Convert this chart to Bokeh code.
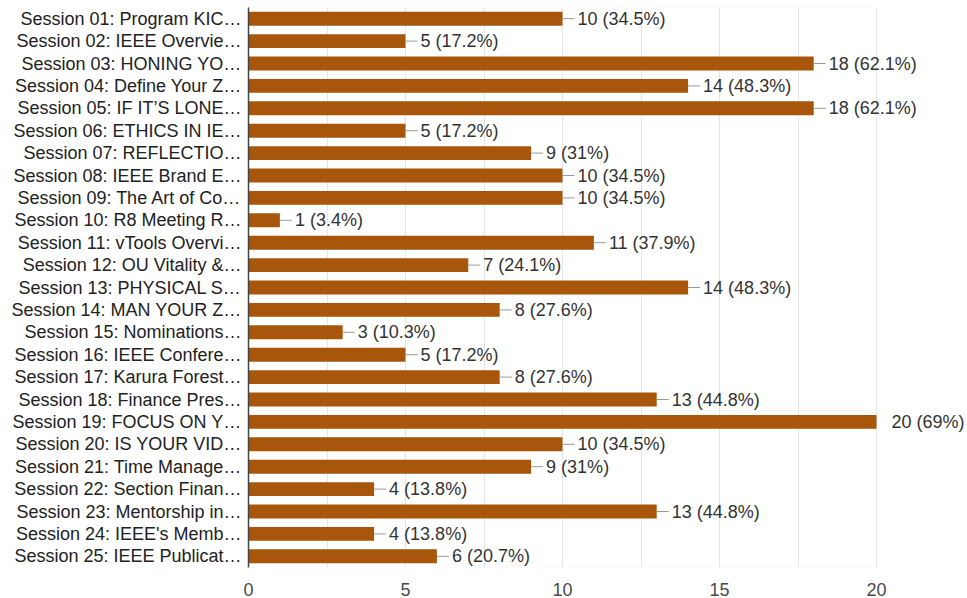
from bokeh.plotting import figure
from bokeh.models import ColumnDataSource, FactorRange, Range1d, FixedTicker, LabelSet, BoxAnnotation
from bokeh.core.properties import value
from bokeh.embed import file_html
from bokeh.resources import INLINE

sessions = [
    "Session 01: Program KIC…",
    "Session 02: IEEE Overvie…",
    "Session 03: HONING YO…",
    "Session 04: Define Your Z…",
    "Session 05: IF IT’S LONE…",
    "Session 06: ETHICS IN IE…",
    "Session 07: REFLECTIO…",
    "Session 08: IEEE Brand E…",
    "Session 09: The Art of Co…",
    "Session 10: R8 Meeting R…",
    "Session 11: vTools Overvi…",
    "Session 12: OU Vitality &…",
    "Session 13: PHYSICAL S…",
    "Session 14: MAN YOUR Z…",
    "Session 15: Nominations…",
    "Session 16: IEEE Confere…",
    "Session 17: Karura Forest…",
    "Session 18: Finance Pres…",
    "Session 19: FOCUS ON Y…",
    "Session 20: IS YOUR VID…",
    "Session 21: Time Manage…",
    "Session 22: Section Finan…",
    "Session 23: Mentorship in…",
    "Session 24: IEEE's Memb…",
    "Session 25: IEEE Publicat…",
]
counts = [10, 5, 18, 14, 18, 5, 9, 10, 10, 1, 11, 7, 14, 8, 3, 5, 8, 13, 20, 10, 9, 4, 13, 4, 6]
percents = ["34.5%", "17.2%", "62.1%", "48.3%", "62.1%", "17.2%", "31%", "34.5%", "34.5%", "3.4%",
            "37.9%", "24.1%", "48.3%", "27.6%", "10.3%", "17.2%", "27.6%", "44.8%", "69%", "34.5%",
            "31%", "13.8%", "44.8%", "13.8%", "20.7%"]
x_ticks = [0, 5, 10, 15, 20]
grid_ticks = [2.5, 5, 7.5, 10, 12.5, 15, 17.5, 20]
x_max = 20

W, H = 965, 598
mb_left, mb_right, mb_top, mb_bottom = 248, 0, 7, 28
axis_px = 628                      # pixel length of the 0..20 scale
px_per_unit = axis_px / x_max
x_end = (W - mb_left - mb_right) / px_per_unit
leader_px = 12
FONT = "Liberation Sans"

labels = [f"{c} ({p})" for c, p in zip(counts, percents)]
src = ColumnDataSource(dict(
    cat=sessions, val=counts, lab=labels,
    lead=[min(c + leader_px / px_per_unit, x_max) for c in counts],
))

p = figure(
    width=W, height=H, output_backend="svg", toolbar_location=None,
    y_range=FactorRange(factors=list(reversed(sessions)), range_padding=0),
    x_range=Range1d(0, x_end),
    min_border_left=mb_left, min_border_right=mb_right,
    min_border_top=mb_top, min_border_bottom=mb_bottom,
    background_fill_color="white", border_fill_color="white",
)
p.outline_line_color = None

# plot-area box (0..20)
p.add_layout(BoxAnnotation(left=0, right=x_max, fill_alpha=0,
                           line_color="#e3e3e3", line_width=1, level="underlay"))

bar_color = "#a8560c"
p.hbar(y="cat", right="val", left=0, height=0.62, source=src,
       fill_color=bar_color, line_color=None)
p.segment(x0="val", y0="cat", x1="lead", y1="cat", source=src,
          line_color="#999999", line_width=1)

ls = LabelSet(x="val", y="cat", text="lab", source=src, x_offset=15,
              text_baseline="middle", text_align="left",
              text_font=value(FONT), text_font_size=value("18px"),
              text_color="#333333")
p.add_layout(ls)

# x axis
p.xaxis.ticker = FixedTicker(ticks=x_ticks)
p.xaxis.axis_line_color = None
p.xaxis.major_tick_line_color = None
p.xaxis.minor_tick_line_color = None
p.xaxis.major_label_text_font = FONT
p.xaxis.major_label_text_font_size = "18px"
p.xaxis.major_label_text_color = "#4a4a4a"
p.xaxis.major_label_standoff = 9

p.xgrid.ticker = FixedTicker(ticks=grid_ticks)
p.xgrid.grid_line_color = "#e6e6e6"
p.ygrid.grid_line_color = None

# y axis
p.yaxis.axis_line_color = "#444444"
p.yaxis.axis_line_width = 1.5
p.yaxis.major_tick_line_color = None
p.yaxis.minor_tick_line_color = None
p.yaxis.major_label_text_font = FONT
p.yaxis.major_label_text_font_size = "18px"
p.yaxis.major_label_text_color = "#222222"
p.yaxis.major_label_standoff = 1

open("out.html", "w").write(file_html(p, INLINE))
